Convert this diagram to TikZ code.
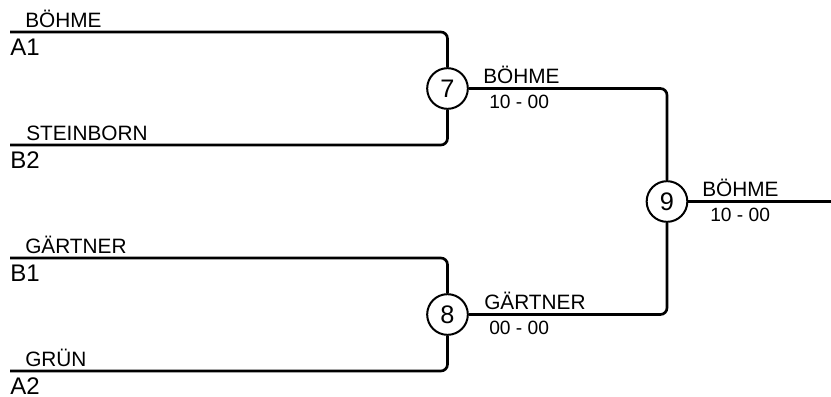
\documentclass[tikz,border=0pt]{standalone}
\usepackage{fontspec}
\setmainfont{Liberation Sans}
\usetikzlibrary{calc}

\tikzset{
  bline/.style={line width=2pt, rounded corners=5pt},
  match/.style={circle, draw, line width=1.5pt, minimum size=30.5pt, inner sep=0pt, font=\fontsize{19}{19}\selectfont},
  player/.style={anchor=base west, inner sep=0pt, font=\fontsize{15.6}{15.6}\selectfont},
  seed/.style={anchor=base west, inner sep=0pt, font=\fontsize{18}{18}\selectfont},
  score/.style={anchor=base west, inner sep=0pt, font=\fontsize{14.4}{14.4}\selectfont},
}

\begin{document}
\begin{tikzpicture}[x=0.75pt, y=-0.75pt]
    \useasboundingbox (0,0) rectangle (831,396);

    %KREISE
    \node[match] (m7) at (447.5,88.5) {7};
    \node[match] (m8) at (447.5,314.5) {8};
    \node[match] (m9) at (667,201.5) {9};

    %START
    \coordinate (a1) at (10,32);
    \coordinate (b2) at (10,145);
    \coordinate (b1) at (10,258);
    \coordinate (a2) at (10,371);
    \coordinate (ziel) at (831,201.5);

    %LINIEN
    \draw[bline] (a1) -| (m7);
    \draw[bline] (b2) -| (m7);
    \draw[bline] (b1) -| (m8);
    \draw[bline] (a2) -| (m8);
    \draw[bline] (m7) -| (m9);
    \draw[bline] (m8) -| (m9);
    \draw[bline] (m9) -- (ziel);

    %NAMEN
    \node[player] (na1) at (25,27) {BÖHME};
    \node[seed] (sa1) at (10,55) {A1};
    \node[player] (nb2) at (26,140) {STEINBORN};
    \node[seed] (sb2) at (10,168) {B2};
    \node[player] (nb1) at (25,253) {GÄRTNER};
    \node[seed] (sb1) at (10,281) {B1};
    \node[player] (na2) at (25,366) {GRÜN};
    \node[seed] (sa2) at (10,394) {A2};

    %ERGEBNISSE
    \node[player] (w7) at (483,83.5) {BÖHME};
    \node[score] (e7) at (489,108.5) {10 - 00};
    \node[player] (w8) at (484,309.5) {GÄRTNER};
    \node[score] (e8) at (489,334.5) {00 - 00};
    \node[player] (w9) at (702,196.5) {BÖHME};
    \node[score] (e9) at (710,221.5) {10 - 00};

\end{tikzpicture}
\end{document}
